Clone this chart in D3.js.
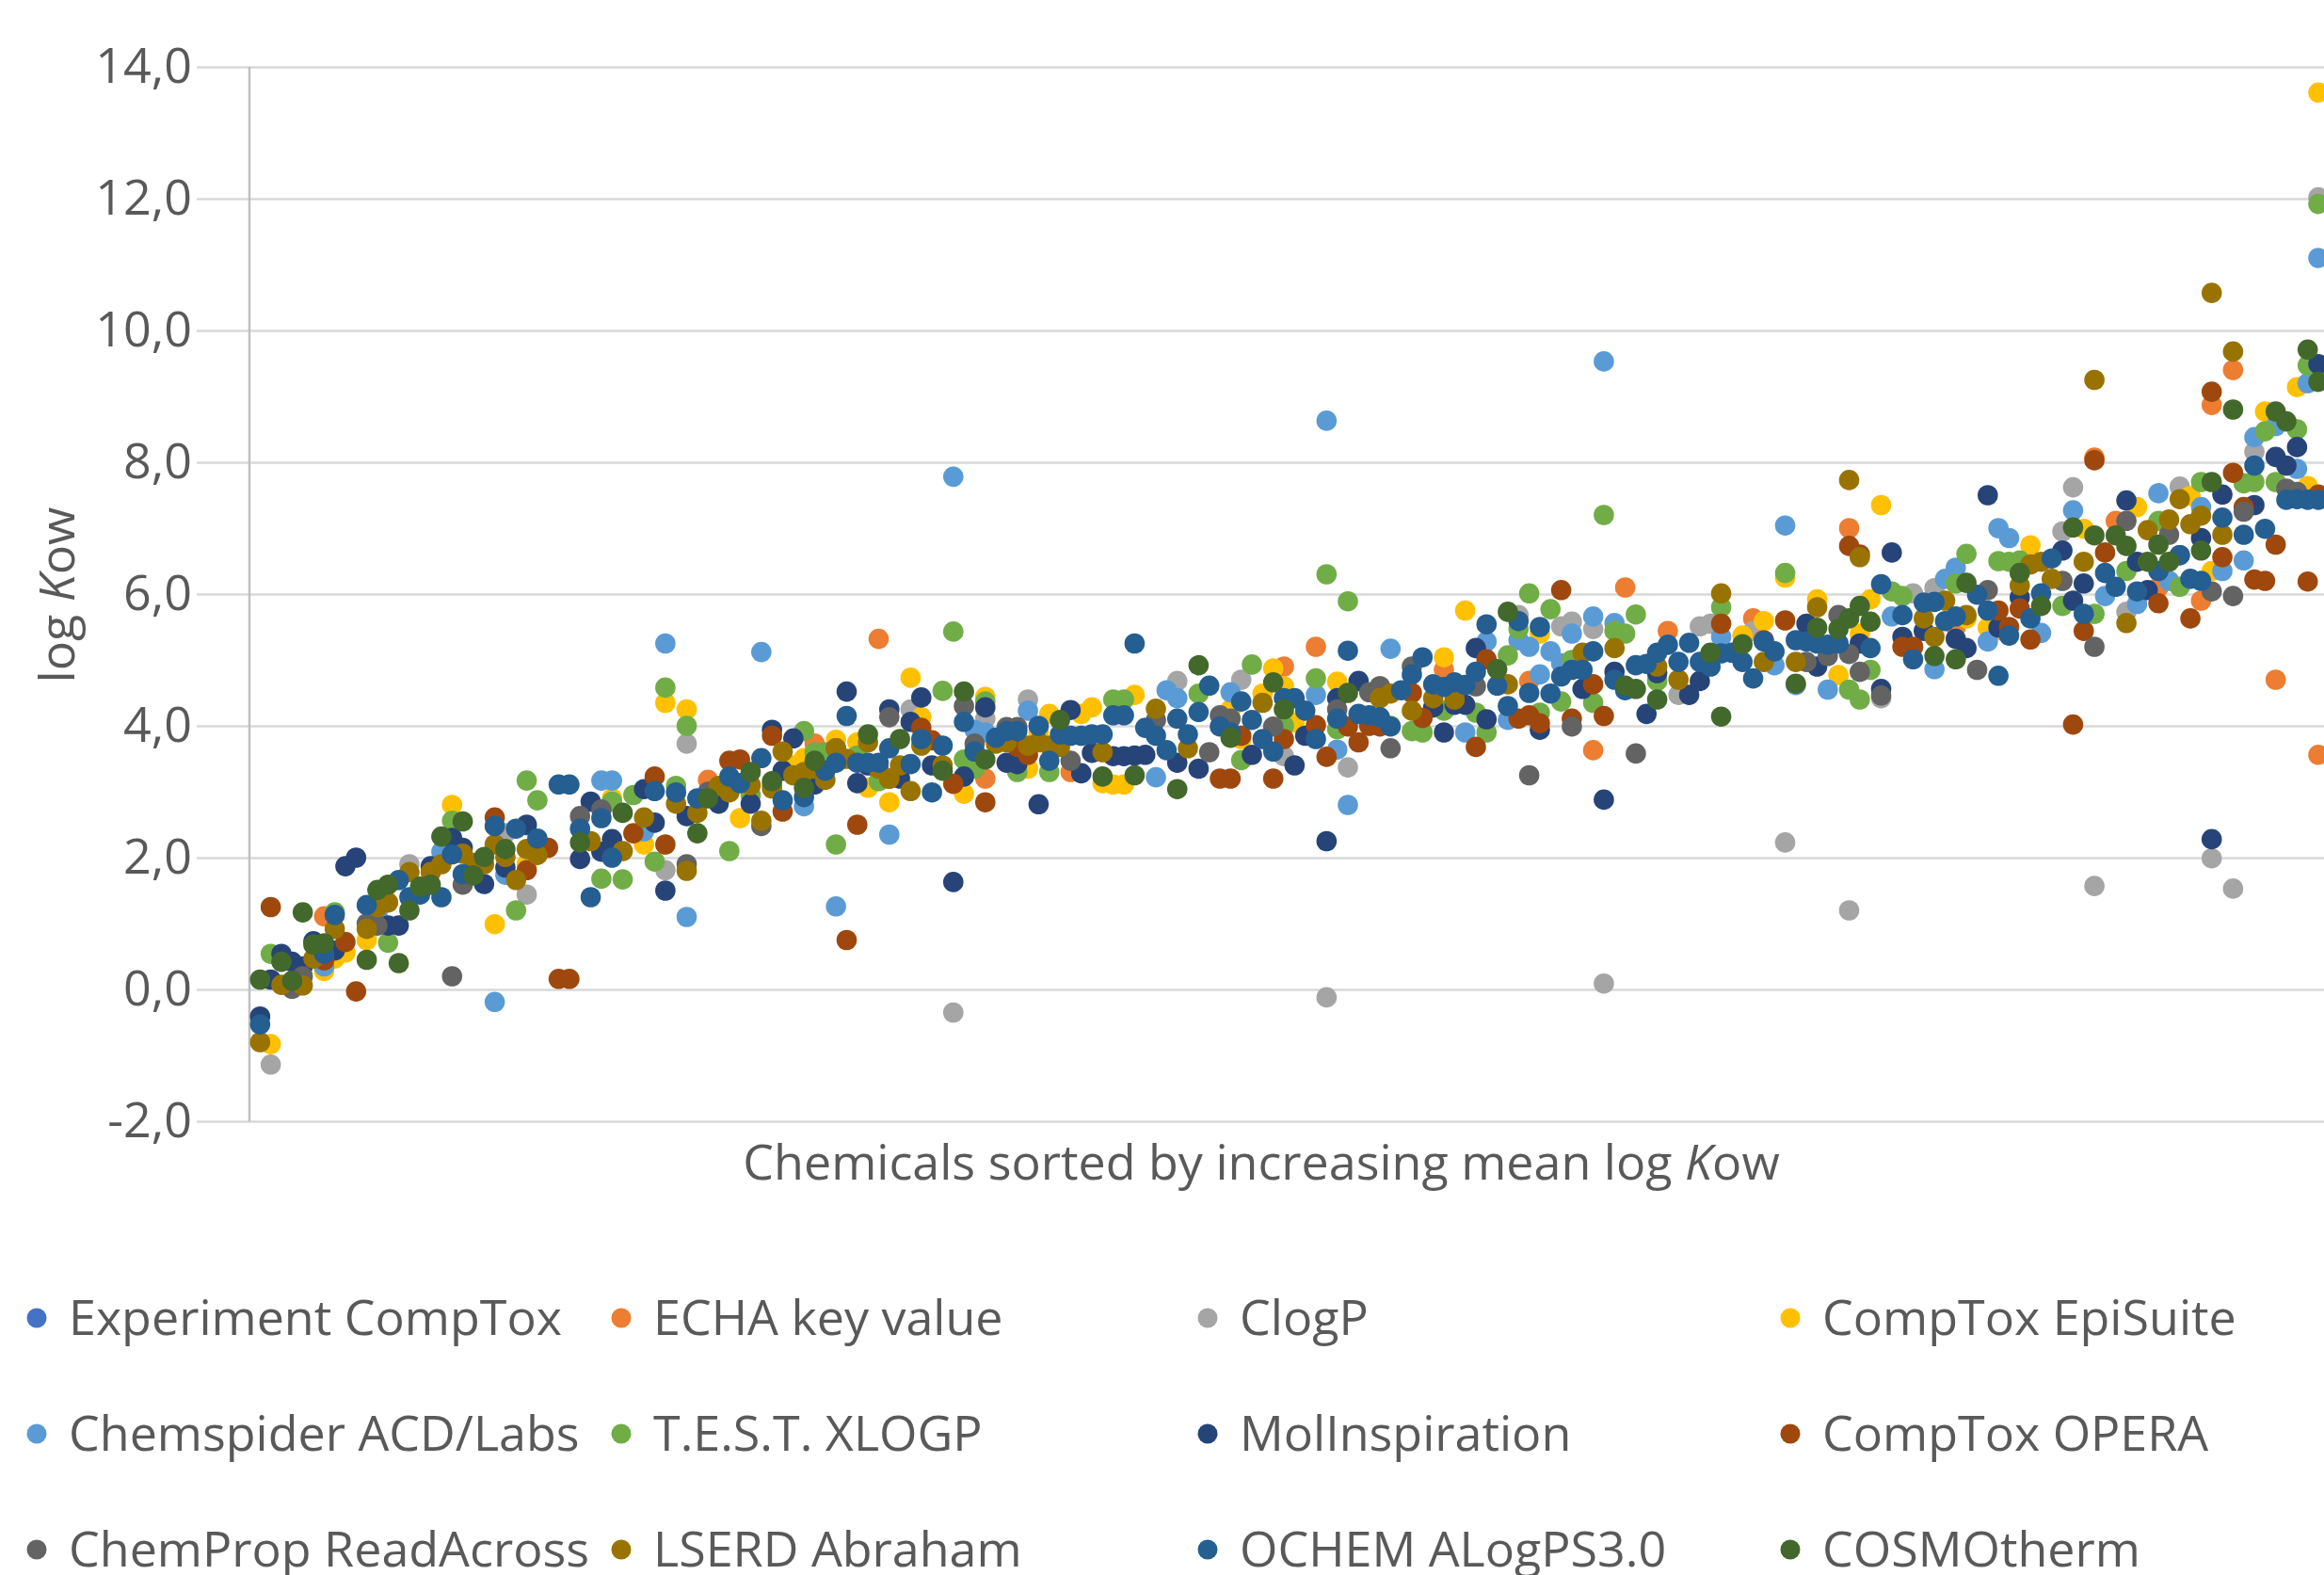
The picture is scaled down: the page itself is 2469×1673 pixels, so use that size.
<!DOCTYPE html>
<html>
<head>
<meta charset="utf-8">
<script src="https://cdn.jsdelivr.net/npm/d3@7"></script>
<style>
  html, body { margin: 0; background: #fff; overflow: hidden; }
  text { font-family: "Open Sans", sans-serif; fill: #595959; }
</style>
</head>
<body>
<div id="my_dataviz"></div>
<script>
// values, each point is [chemical rank, log Kow]
// points fully hidden in the dense band are left out
const experiment = [];
const echa = [[7,1.11],[43,3.18],[53,3.73],[59,5.32],[69,3.2],[77,3.3],[97,4.9],[100,5.2],[112,4.85],[120,4.68],[126,3.63],[129,6.1],[133,5.44],[141,5.63],[150,7.0],[160,5.5],[173,8.07],[175,7.11],[179,6.1],[183,5.9],[184,8.87],[186,9.4],[190,4.7],[194,3.56]];
const clogp = [[2,-1.14],[15,1.9],[24,2.37],[26,1.44],[39,1.81],[41,3.73],[62,4.25],[66,-0.35],[69,4.11],[73,4.4],[87,4.68],[93,4.7],[97,3.54],[101,-0.12],[103,3.37],[119,5.68],[123,5.51],[124,5.58],[126,5.47],[127,0.09],[134,4.47],[136,5.51],[137,5.55],[141,5.44],[144,2.23],[150,1.2],[153,4.42],[156,6.01],[158,6.09],[170,6.95],[171,7.62],[173,1.57],[176,5.73],[181,7.63],[184,1.99],[186,1.53],[188,8.16],[194,12.02]];
const episuite = [[2,-0.83],[7,0.28],[8,0.47],[9,0.56],[11,0.75],[19,2.8],[23,0.99],[26,1.9],[34,2.9],[37,2.2],[39,4.35],[41,4.25],[46,2.6],[51,3.4],[52,3.51],[55,3.79],[57,3.75],[58,3.06],[60,2.84],[62,4.73],[63,4.13],[67,2.97],[69,4.44],[73,3.35],[74,3.9],[75,4.18],[78,4.18],[79,4.28],[80,3.13],[81,3.11],[82,3.11],[83,4.47],[92,4.25],[93,3.8],[95,4.49],[96,4.87],[97,4.6],[98,4.05],[102,4.67],[112,5.04],[114,5.75],[121,5.4],[140,5.37],[142,5.59],[144,6.25],[147,5.92],[149,4.77],[151,5.4],[152,5.92],[153,7.35],[161,5.63],[163,5.49],[164,5.45],[167,6.74],[172,6.99],[177,7.32],[182,7.49],[184,6.35],[189,8.77],[192,9.14],[193,7.64],[194,13.61]];
const chemspider = [[7,0.35],[12,1.16],[18,2.09],[23,-0.19],[24,1.74],[26,2.49],[33,3.17],[34,3.17],[37,2.4],[39,5.25],[41,1.1],[48,5.12],[52,2.78],[55,1.26],[60,2.35],[66,7.78],[68,3.94],[69,3.9],[73,4.23],[85,3.22],[86,4.54],[87,4.42],[92,4.51],[100,4.47],[101,8.63],[102,3.64],[103,2.8],[107,5.17],[114,3.9],[116,5.28],[118,4.09],[119,5.3],[120,5.2],[121,4.78],[122,5.13],[123,4.95],[124,5.4],[126,5.66],[127,9.53],[128,5.56],[138,5.35],[143,4.92],[144,7.04],[145,4.62],[148,4.55],[154,5.66],[158,4.86],[159,6.23],[160,6.4],[163,5.28],[164,7.0],[165,6.85],[168,5.41],[171,7.27],[174,5.97],[177,5.85],[179,7.53],[180,6.2],[183,7.32],[185,6.35],[187,6.51],[188,8.38],[190,8.55],[192,7.9],[193,9.2],[194,11.1]];
const testXlogp = [[2,0.54],[8,1.17],[13,0.71],[19,2.56],[25,1.2],[26,3.17],[27,2.87],[33,1.68],[34,2.85],[35,1.67],[36,2.95],[38,1.94],[39,4.58],[40,3.09],[41,4.0],[45,2.1],[47,2.95],[49,3.1],[52,3.92],[53,3.6],[54,3.6],[55,2.2],[57,3.55],[59,3.16],[65,4.53],[66,5.43],[67,3.49],[68,3.35],[69,4.37],[72,3.3],[75,3.3],[81,4.4],[82,4.4],[89,4.49],[93,3.48],[94,4.93],[97,4.0],[100,4.72],[101,6.3],[102,3.95],[103,5.89],[106,4.6],[107,4.0],[109,3.92],[110,3.9],[112,4.23],[115,4.2],[116,3.9],[118,5.07],[119,5.47],[120,6.01],[121,4.2],[122,5.77],[123,4.37],[124,5.0],[126,4.35],[127,7.2],[128,5.44],[129,5.4],[130,5.69],[132,4.68],[138,5.8],[144,6.32],[150,4.55],[151,4.4],[152,4.85],[154,6.04],[155,5.97],[160,6.16],[161,6.61],[164,6.5],[165,6.49],[166,6.51],[170,5.82],[173,5.7],[176,6.35],[179,7.11],[181,6.11],[183,7.7],[187,7.68],[188,7.7],[189,8.47],[190,7.7],[192,8.5],[193,9.47],[194,11.92]];
const molinspiration = [[1,-0.41],[2,0.15],[3,0.54],[4,0.42],[5,0.35],[6,0.73],[8,0.59],[9,1.87],[10,2.0],[13,0.97],[14,0.97],[17,1.87],[19,2.3],[20,2.15],[22,1.6],[24,1.85],[26,2.5],[31,1.98],[32,2.85],[33,2.09],[34,2.28],[37,3.04],[38,2.53],[39,1.5],[41,2.63],[44,2.82],[47,2.82],[49,3.94],[50,3.32],[51,3.81],[53,3.11],[56,4.52],[57,3.13],[58,3.4],[60,4.25],[61,3.2],[62,4.06],[63,4.43],[64,3.4],[66,1.63],[67,3.23],[69,4.28],[71,3.44],[72,3.42],[74,2.81],[77,4.24],[78,3.28],[79,3.59],[81,3.54],[82,3.54],[83,3.55],[84,3.56],[87,3.44],[89,3.35],[94,3.56],[98,3.4],[99,3.85],[101,2.25],[102,4.42],[104,4.68],[111,4.28],[112,3.9],[113,4.32],[114,4.32],[115,5.18],[116,4.1],[121,3.94],[125,4.56],[127,2.88],[128,4.82],[131,4.18],[132,4.8],[135,4.47],[136,4.68],[146,5.55],[147,4.9],[151,5.25],[153,4.56],[154,6.63],[155,5.35],[157,5.44],[160,5.32],[161,5.18],[163,7.5],[164,5.49],[166,5.95],[170,6.66],[171,5.9],[172,6.16],[176,7.42],[177,6.49],[178,6.06],[181,6.59],[183,6.85],[184,2.28],[185,7.51],[188,7.35],[190,8.08],[191,7.95],[192,8.23],[194,9.49]];
const opera = [[2,1.25],[7,0.44],[9,0.72],[10,-0.03],[23,2.61],[26,1.81],[28,2.15],[29,0.16],[30,0.16],[36,2.37],[38,3.23],[39,2.2],[45,3.47],[46,3.49],[49,3.85],[50,2.7],[56,0.75],[57,2.5],[60,3.2],[63,3.97],[64,3.78],[66,3.12],[69,2.84],[72,3.68],[73,3.56],[91,3.2],[92,3.2],[93,3.85],[96,3.2],[97,3.8],[100,4.01],[101,3.53],[103,3.99],[104,3.75],[105,4.0],[106,3.99],[109,4.5],[110,4.12],[115,3.68],[116,5.01],[119,4.11],[120,4.16],[121,4.04],[123,6.06],[124,4.11],[126,4.63],[127,4.15],[138,5.55],[142,5.3],[144,5.6],[150,6.73],[151,6.6],[155,5.2],[156,5.2],[164,5.75],[165,5.5],[166,5.78],[167,5.31],[171,4.02],[172,5.44],[173,8.03],[174,6.63],[179,5.86],[182,5.63],[184,9.07],[185,6.56],[186,7.84],[187,7.32],[188,6.22],[189,6.2],[190,6.75],[193,6.19],[194,7.51]];
const chemprop = [[4,0.01],[5,0.2],[11,1.0],[12,0.97],[19,0.2],[20,1.59],[31,2.63],[33,2.73],[41,1.9],[43,3.0],[48,2.48],[55,3.66],[60,4.13],[67,4.3],[68,3.73],[71,3.98],[72,3.98],[77,3.47],[85,4.09],[90,3.6],[91,4.16],[92,4.11],[96,3.99],[102,4.25],[105,4.51],[106,4.6],[107,3.66],[109,4.9],[113,4.5],[115,4.6],[120,3.25],[124,3.99],[130,3.58],[146,4.97],[148,5.06],[149,5.68],[150,5.09],[151,4.82],[153,4.46],[162,4.85],[163,6.06],[170,6.2],[173,5.2],[176,7.11],[180,6.9],[184,6.04],[186,5.97],[187,7.25],[191,7.6],[192,7.55]];
const lserd = [[1,-0.8],[3,0.07],[5,0.06],[6,0.47],[8,0.92],[11,0.92],[12,1.25],[13,1.32],[15,1.78],[17,1.78],[18,1.9],[20,2.06],[21,1.92],[22,1.9],[23,2.2],[24,2.01],[25,1.66],[26,2.13],[27,2.04],[32,2.25],[35,2.1],[37,2.61],[40,2.82],[41,1.8],[42,2.68],[44,3.09],[45,2.99],[47,3.1],[48,2.56],[49,3.05],[50,3.61],[51,3.25],[52,3.3],[53,3.35],[54,3.18],[55,3.66],[56,3.5],[58,3.75],[59,3.35],[60,3.2],[61,3.4],[62,3.01],[63,3.7],[65,3.4],[70,3.73],[71,3.75],[73,3.7],[74,3.75],[75,3.7],[76,3.68],[80,3.6],[85,4.26],[88,3.66],[95,4.35],[106,4.42],[107,4.49],[109,4.23],[111,4.42],[113,4.4],[118,4.63],[125,5.11],[128,5.18],[132,4.9],[134,4.7],[138,6.01],[142,4.97],[145,4.97],[147,5.8],[150,7.73],[151,6.56],[157,5.63],[158,5.35],[159,5.9],[161,5.68],[166,6.13],[167,6.45],[168,6.49],[169,6.23],[172,6.49],[173,9.25],[176,5.56],[178,6.97],[180,7.13],[181,7.44],[182,7.06],[183,7.19],[184,10.57],[185,6.9],[186,9.68]];
const ochem = [[1,-0.53],[7,0.54],[8,1.13],[11,1.28],[14,1.66],[15,1.4],[16,1.44],[18,1.4],[19,2.05],[20,1.75],[23,2.48],[25,2.44],[27,2.29],[29,3.11],[30,3.11],[31,2.44],[32,1.4],[33,2.6],[34,2.0],[38,3.01],[40,2.99],[42,2.9],[45,3.23],[46,3.13],[48,3.51],[50,2.87],[52,2.92],[54,3.32],[55,3.44],[56,4.15],[57,3.44],[58,3.44],[59,3.44],[60,3.66],[62,3.42],[63,3.8],[64,2.99],[65,3.7],[67,4.06],[68,3.61],[70,3.82],[71,3.92],[72,3.92],[74,4.0],[75,3.47],[76,3.87],[77,3.85],[78,3.85],[79,3.87],[80,3.87],[81,4.16],[82,4.16],[83,5.25],[84,3.97],[85,3.85],[86,3.63],[87,4.11],[88,3.87],[89,4.21],[90,4.61],[91,3.99],[92,3.9],[93,4.37],[94,4.09],[95,3.8],[96,3.61],[97,4.42],[98,4.42],[99,4.23],[100,3.8],[102,4.11],[103,5.14],[104,4.18],[105,4.16],[106,4.13],[107,3.99],[108,4.54],[109,4.78],[110,5.04],[111,4.63],[112,4.59],[113,4.66],[114,4.62],[115,4.82],[116,5.54],[117,4.61],[118,4.3],[119,5.59],[120,4.5],[121,5.5],[122,4.49],[123,4.75],[124,4.85],[125,4.85],[126,5.13],[128,4.7],[129,4.54],[130,4.92],[131,4.94],[132,5.11],[133,5.23],[134,4.97],[135,5.26],[136,4.97],[137,4.9],[138,5.1],[139,5.11],[140,4.97],[141,4.72],[142,5.28],[143,5.13],[145,5.3],[146,5.28],[147,5.25],[148,5.23],[149,5.25],[152,5.18],[153,6.15],[155,5.68],[156,5.01],[157,5.87],[158,5.88],[159,5.59],[160,5.66],[162,5.99],[163,5.75],[164,4.76],[165,5.37],[167,5.63],[168,6.01],[169,6.54],[172,5.7],[174,6.32],[175,6.11],[177,6.04],[179,6.35],[181,6.59],[182,6.23],[183,6.2],[185,7.16],[187,6.9],[188,7.95],[189,6.99],[191,7.43],[192,7.44],[193,7.43],[194,7.43]];
const cosmotherm = [[1,0.15],[3,0.42],[4,0.13],[5,1.17],[6,0.68],[7,0.7],[11,0.45],[12,1.51],[13,1.59],[14,0.4],[15,1.2],[16,1.56],[17,1.59],[18,2.32],[20,2.55],[21,1.73],[22,2.01],[24,2.13],[31,2.23],[35,2.68],[42,2.37],[43,2.9],[47,3.3],[49,3.16],[52,3.06],[53,3.47],[58,3.87],[61,3.8],[65,3.32],[67,4.52],[69,3.49],[76,4.09],[80,3.23],[83,3.25],[87,3.04],[89,4.92],[92,3.82],[96,4.66],[97,4.25],[103,4.5],[117,4.86],[118,5.73],[129,4.61],[130,4.56],[132,4.4],[137,5.11],[138,4.14],[140,5.24],[145,4.64],[147,5.49],[149,5.47],[150,5.63],[151,5.82],[152,5.58],[158,5.06],[160,5.01],[161,6.17],[166,6.32],[168,5.82],[171,7.01],[173,6.89],[175,6.89],[176,6.73],[178,6.49],[179,6.75],[180,6.49],[183,6.66],[184,7.7],[186,8.8],[190,8.77],[191,8.62],[193,9.71],[194,9.22]];

const yTicks = [-2, 0, 2, 4, 6, 8, 10, 12, 14];

// legend reads across the rows, draw order is this order too
const seriesNames = ["Experiment CompTox", "ECHA key value", "ClogP", "CompTox EpiSuite",
  "Chemspider ACD/Labs", "T.E.S.T. XLOGP", "MolInspiration", "CompTox OPERA",
  "ChemProp ReadAcross", "LSERD Abraham", "OCHEM ALogPS3.0", "COSMOtherm"];
const seriesValues = [experiment, echa, clogp, episuite, chemspider, testXlogp,
  molinspiration, opera, chemprop, lserd, ochem, cosmotherm];
const seriesColors = ["#4472C4", "#ED7D31", "#A5A5A5", "#FFC000", "#5B9BD5", "#70AD47",
  "#264478", "#9E480E", "#636363", "#997300", "#255E91", "#43682B"];

const width = 2469
const height = 1673
const margin = { top: 71, bottom: 482, left: 265 }
const fontSize = 52

const svg = d3.select("#my_dataviz")
  .append("svg")
    .attr("width", width)
    .attr("height", height);

// the plot runs past the right edge of the picture
const x = d3.scaleLinear()
  .domain([0, 194])
  .range([margin.left, margin.left + 194 * 11.33]);

const y = d3.scaleLinear()
  .domain([-2, 14])
  .range([height - margin.bottom, margin.top]);

// gridlines come from the axis ticks, they start left of the axis line
const yAxis = svg.append("g")
  .attr("transform", "translate(209,0)")
  .call(d3.axisLeft(y)
    .tickValues(yTicks)
    .tickSize(-(width - 209))
    .tickPadding(5)
    .tickFormat(d => d3.format(".1f")(d).replace(".", ",").replace("−", "-")));
yAxis.select(".domain").remove();
yAxis.selectAll("line").attr("stroke", "#D9D9D9").attr("stroke-width", 2.5);
yAxis.selectAll("text")
  .attr("font-size", fontSize)
  .attr("fill", "#595959")
  .attr("font-family", "'Open Sans', sans-serif");

svg.append("line")
  .attr("x1", x(0)).attr("x2", x(0))
  .attr("y1", y(14)).attr("y2", y(-2))
  .attr("stroke", "#BFBFBF")
  .attr("stroke-width", 2.5);

// one group per series
svg.selectAll("g.series")
  .data(seriesValues)
  .enter().append("g")
    .attr("class", "series")
    .attr("fill", (d, i) => seriesColors[i])
  .selectAll("circle")
  .data(d => d)
  .enter().append("circle")
    .attr("cx", d => x(d[0]))
    .attr("cy", d => y(d[1]))
    .attr("r", 10.8);

// axis titles
const xTitle = svg.append("text")
  .attr("x", 1340)
  .attr("y", 1253)
  .attr("text-anchor", "middle")
  .attr("font-size", fontSize);
xTitle.append("tspan").text("Chemicals sorted by increasing mean log ");
xTitle.append("tspan").attr("font-style", "italic").text("K");
xTitle.append("tspan").text("ow");

const yTitle = svg.append("text")
  .attr("transform", "translate(79,632) rotate(-90)")
  .attr("text-anchor", "middle")
  .attr("font-size", fontSize);
yTitle.append("tspan").text("log ");
yTitle.append("tspan").attr("font-style", "italic").text("K");
yTitle.append("tspan").text("ow");

// legend
const legendX = [39, 660, 1283, 1902];
const legendY = [1400, 1523, 1646];
const legend = svg.selectAll("g.legend")
  .data(seriesNames)
  .enter().append("g")
    .attr("class", "legend")
    .attr("transform", (d, i) => "translate(" + legendX[i % 4] + "," + legendY[Math.floor(i / 4)] + ")");
legend.append("circle")
  .attr("r", 10.5)
  .attr("fill", (d, i) => seriesColors[i]);
legend.append("text")
  .attr("x", 34)
  .attr("y", 18)
  .attr("font-size", fontSize)
  .text(d => d);
</script>
</body>
</html>
